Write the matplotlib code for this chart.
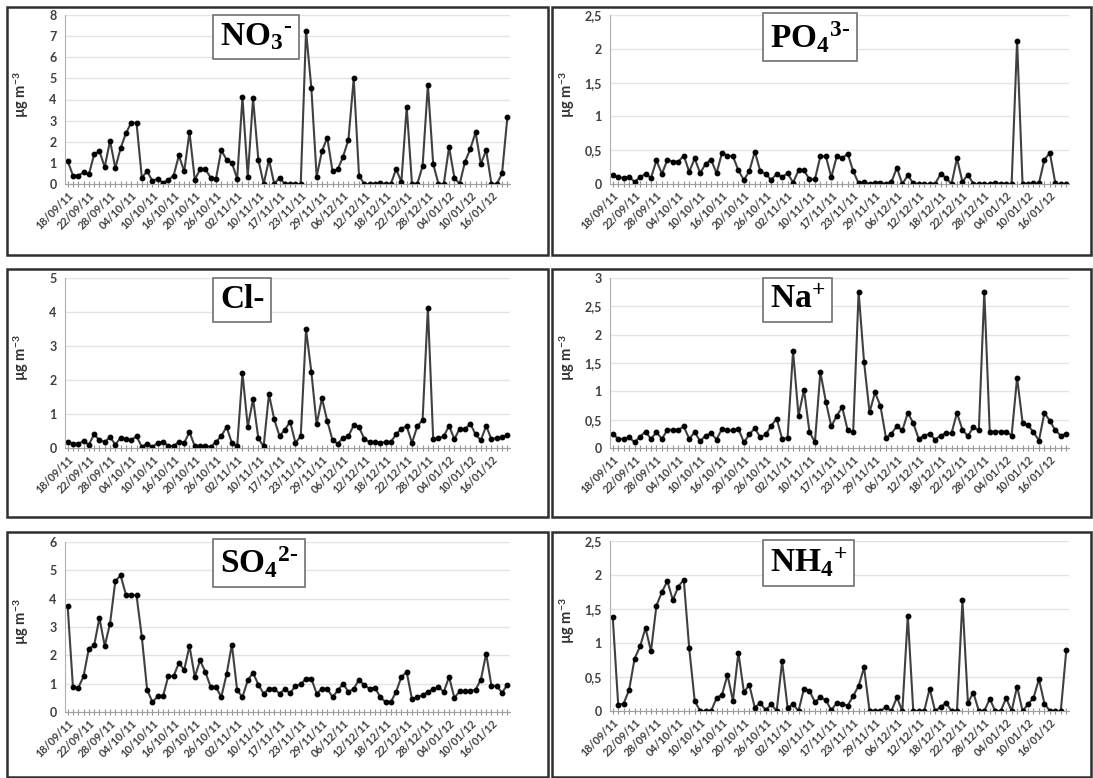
import matplotlib.pyplot as plt
from matplotlib.patches import Rectangle

plt.rcParams['font.family'] = ['Lato', 'DejaVu Sans']
plt.rcParams['mathtext.fontset'] = 'custom'
plt.rcParams['mathtext.rm'] = 'Liberation Serif'
plt.rcParams['mathtext.it'] = 'Liberation Serif:italic'
plt.rcParams['mathtext.bf'] = 'Liberation Serif:bold'

# sampling dates shown on the axis (every 4th sample)
date_labels = ['18/09/11', '22/09/11', '28/09/11', '04/10/11', '10/10/11', '16/10/11',
               '20/10/11', '26/10/11', '02/11/11', '10/11/11', '17/11/11', '23/11/11',
               '29/11/11', '06/12/11', '12/12/11', '18/12/11', '22/12/11', '28/12/11',
               '04/01/12', '10/01/12', '16/01/12']

# concentrations, ug m-3
no3 = [1.1, 0.4, 0.4, 0.55, 0.45, 1.4, 1.55, 0.8, 2.05, 0.75,
       1.7, 2.4, 2.9, 2.9, 0.3, 0.6, 0.15, 0.25, 0.05, 0.2,
       0.4, 1.35, 0.6, 2.45, 0.2, 0.7, 0.7, 0.3, 0.25, 1.6,
       1.15, 1.0, 0.25, 4.1, 0.35, 4.05, 1.15, 0, 1.15, 0,
       0.3, 0, 0, 0, 0, 7.25, 4.55, 0.35, 1.55, 2.2,
       0.6, 0.7, 1.3, 2.1, 5.0, 0.4, 0, 0, 0, 0.05,
       0, 0, 0.7, 0.1, 3.65, 0, 0, 0.85, 4.7, 0.95,
       0, 0, 1.75, 0.3, 0, 1.05, 1.65, 2.45, 0.95, 1.6,
       0, 0, 0.5, 3.15]
po4 = [0.13, 0.1, 0.09, 0.11, 0.03, 0.1, 0.15, 0.09, 0.35, 0.15,
       0.36, 0.33, 0.33, 0.42, 0.18, 0.38, 0.16, 0.3, 0.36, 0.16,
       0.46, 0.42, 0.41, 0.2, 0.06, 0.19, 0.48, 0.19, 0.15, 0.06,
       0.15, 0.1, 0.16, 0.02, 0.2, 0.2, 0.07, 0.07, 0.41, 0.41,
       0.1, 0.41, 0.38, 0.45, 0.19, 0.01, 0.03, 0, 0.02, 0.02,
       0, 0.03, 0.24, 0, 0.13, 0.01, 0, 0, 0, 0,
       0.15, 0.09, 0, 0.38, 0.03, 0.14, 0, 0, 0, 0,
       0.02, 0, 0, 0, 2.12, 0, 0, 0.01, 0.01, 0.36,
       0.46, 0.01, 0, 0]
cl = [0.18, 0.13, 0.13, 0.2, 0.1, 0.4, 0.23, 0.18, 0.32, 0.1,
      0.3, 0.26, 0.23, 0.35, 0.03, 0.13, 0.03, 0.15, 0.18, 0.06,
      0.06, 0.18, 0.15, 0.47, 0.05, 0.05, 0.07, 0.03, 0.18, 0.35,
      0.62, 0.15, 0.05, 2.2, 0.62, 1.44, 0.28, 0.05, 1.58, 0.84,
      0.35, 0.54, 0.77, 0.15, 0.35, 3.49, 2.24, 0.7, 1.46, 0.8,
      0.23, 0.13, 0.3, 0.35, 0.67, 0.62, 0.26, 0.18, 0.18, 0.15,
      0.18, 0.18, 0.4, 0.57, 0.64, 0.15, 0.64, 0.82, 4.13, 0.26,
      0.28, 0.35, 0.65, 0.26, 0.57, 0.55, 0.72, 0.4, 0.23, 0.65,
      0.26, 0.3, 0.32, 0.38]
na = [0.25, 0.16, 0.16, 0.19, 0.1, 0.2, 0.29, 0.16, 0.28, 0.16,
      0.32, 0.32, 0.32, 0.38, 0.16, 0.28, 0.12, 0.22, 0.26, 0.15,
      0.34, 0.31, 0.31, 0.34, 0.1, 0.24, 0.35, 0.19, 0.24, 0.39,
      0.52, 0.16, 0.18, 1.71, 0.57, 1.03, 0.29, 0.1, 1.34, 0.82,
      0.38, 0.57, 0.72, 0.31, 0.28, 2.76, 1.51, 0.63, 0.98, 0.74,
      0.18, 0.25, 0.39, 0.31, 0.62, 0.44, 0.16, 0.22, 0.25, 0.15,
      0.22, 0.26, 0.26, 0.62, 0.32, 0.21, 0.37, 0.31, 2.76, 0.28,
      0.29, 0.29, 0.29, 0.22, 1.24, 0.45, 0.4, 0.28, 0.13, 0.62,
      0.48, 0.31, 0.22, 0.25]
so4 = [3.74, 0.88, 0.85, 1.26, 2.24, 2.35, 3.32, 2.33, 3.12, 4.62,
       4.82, 4.14, 4.14, 4.12, 2.65, 0.79, 0.35, 0.55, 0.55, 1.27,
       1.27, 1.73, 1.49, 2.33, 1.24, 1.82, 1.41, 0.88, 0.88, 0.53,
       1.33, 2.38, 0.76, 0.53, 1.12, 1.39, 0.96, 0.65, 0.82, 0.82,
       0.65, 0.8, 0.67, 0.92, 0.98, 1.18, 1.18, 0.65, 0.82, 0.82,
       0.53, 0.76, 1.0, 0.71, 0.82, 1.14, 0.94, 0.82, 0.86, 0.53,
       0.35, 0.35, 0.71, 1.24, 1.41, 0.45, 0.53, 0.59, 0.71, 0.8,
       0.88, 0.71, 1.24, 0.5, 0.73, 0.73, 0.73, 0.79, 1.14, 2.06,
       0.92, 0.92, 0.68, 0.96]
nh4 = [1.38, 0.09, 0.11, 0.31, 0.77, 0.95, 1.22, 0.88, 1.55, 1.75,
       1.91, 1.63, 1.83, 1.93, 0.92, 0.15, 0, 0, 0, 0.19,
       0.24, 0.53, 0.15, 0.86, 0.28, 0.38, 0.05, 0.12, 0.01, 0.1,
       0, 0.73, 0.05, 0.1, 0, 0.33, 0.3, 0.13, 0.2, 0.16,
       0.01, 0.12, 0.1, 0.08, 0.22, 0.37, 0.64, 0, 0, 0,
       0.06, 0, 0.2, 0, 1.4, 0, 0, 0, 0.33, 0,
       0.06, 0.12, 0, 0, 1.63, 0.12, 0.27, 0, 0, 0.18,
       0, 0, 0.19, 0, 0.36, 0, 0.1, 0.19, 0.47, 0.11,
       0, 0, 0, 0.89]

# U+2010 hyphen keeps the charge sign short (mathtext turns '-' into a wide minus)
titles = ['NO$_\\mathbf{3}{}^{\\mathbf{\u2010}}$', 'PO$_\\mathbf{4}{}^{\\mathbf{3\u2010}}$', 'Cl-',
          'Na$^\\mathbf{+}$', 'SO$_\\mathbf{4}{}^{\\mathbf{2\u2010}}$', 'NH$_\\mathbf{4}{}^\\mathbf{+}$']
series = [no3, po4, cl, na, so4, nh4]
ymax = [8, 2.5, 5, 3, 6, 2.5]
ystep = [1, 0.5, 1, 0.5, 1, 0.5]

W, H = 1093, 778
fig = plt.figure(figsize=(W / 100, H / 100), dpi=100)


def fig_rect(x0, y0, x1, y1):
    # pixel box (top-left origin) -> figure fraction
    return [x0 / W, 1 - y1 / H, (x1 - x0) / W, (y1 - y0) / H]


# plot areas and panel frames in pixels
plot_boxes = [(65, 15, 510, 184), (610, 15, 1069, 184),
              (65, 278, 510, 448), (610, 278, 1069, 448),
              (65, 542, 510, 712), (610, 541, 1069, 711)]
frames = [(7, 7, 548, 255), (552, 7, 1091, 255),
          (7, 269, 548, 517), (552, 269, 1091, 517),
          (7, 532, 548, 777), (552, 532, 1091, 777)]
title_pos = [(220, 37), (770, 37), (220, 300), (770, 300), (220, 563), (770, 563)]

n = len(no3)
x = list(range(n))

for i in range(6):
    fx = fig_rect(*frames[i])
    fig.patches.append(Rectangle((fx[0], fx[1]), fx[2], fx[3], transform=fig.transFigure,
                                 fill=False, ec='#2e2e2e', lw=1.8))

    ax = fig.add_axes(fig_rect(*plot_boxes[i]))
    ax.plot(x, series[i], color='#404040', lw=1.5, marker='o', ms=3.2,
            mfc='black', mec='black')

    ax.set_xlim(-0.5, n - 0.5)
    ax.set_ylim(0, ymax[i])
    ticks = [k * ystep[i] for k in range(int(round(ymax[i] / ystep[i])) + 1)]
    ax.set_yticks(ticks)
    ax.set_yticklabels([f'{t:g}'.replace('.', ',') for t in ticks])

    ax.set_xticks(x)
    ax.set_xticklabels([date_labels[k // 4] if k % 4 == 0 else '' for k in x],
                       rotation=45, ha='right', rotation_mode='anchor')

    ax.yaxis.grid(True, color='#e3e3e3', lw=1)
    ax.set_axisbelow(True)
    for s in ['top', 'right']:
        ax.spines[s].set_visible(False)
    ax.spines['left'].set_color('#b0b0b0')
    ax.spines['bottom'].set_color('#a0a0a0')

    ax.tick_params(axis='x', length=4, direction='inout', color='#909090', width=0.8,
                   labelsize=7.8, labelcolor='#404040', pad=2)
    ax.tick_params(axis='y', length=0, labelsize=9, labelcolor='#404040', pad=6)
    for lab in ax.get_xticklabels() + ax.get_yticklabels():
        lab.set_fontweight('bold')

    ax.set_ylabel(r'µg m$^{\mathregular{-3}}$', fontsize=10.5, fontweight='bold', color='#303030')
    ax.yaxis.set_label_coords(-0.076 if i % 2 == 0 else -0.072, 0.53)

    tx, ty = title_pos[i]
    fig.text(tx / W, 1 - ty / H, titles[i], fontsize=24, fontweight='bold',
             family='Liberation Serif', ha='left', va='center',
             bbox=dict(boxstyle='square,pad=0.2', fc='white', ec='#707070', lw=1.2))

plt.savefig('out.png', dpi=100)
